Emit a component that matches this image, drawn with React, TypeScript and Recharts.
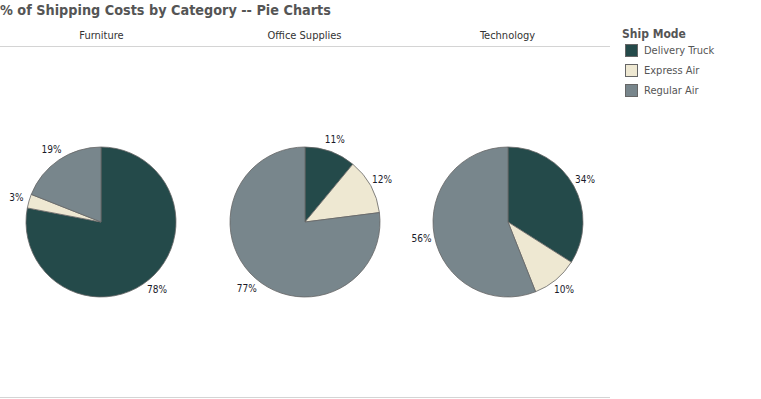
import { PieChart, Pie, Cell } from "recharts";

const modes = ["Delivery Truck", "Express Air", "Regular Air"];
const colors = ["#244A4A", "#EEE8D2", "#78868C"];

const categories = ["Furniture", "Office Supplies", "Technology"];
const furniture = [78, 3, 19];
const officeSupplies = [11, 12, 77];
const technology = [34, 10, 56];
const seriesByCategory = [furniture, officeSupplies, technology];

const FONT = "'DejaVu Sans Condensed', 'DejaVu Sans', sans-serif";
const RAD = Math.PI / 180;

const renderLabel = (p: any) => {
  const r = p.outerRadius + 13;
  const x = p.cx + r * Math.cos(-p.midAngle * RAD);
  const y = p.cy + r * Math.sin(-p.midAngle * RAD);
  return (
    <text x={x} y={y} textAnchor="middle" dominantBaseline="central" fontSize={10} fontFamily={FONT} fill="#1a1a2a">
      {p.value}%
    </text>
  );
};

export default function App() {
  return (
    <div style={{ position: "absolute", left: 0, top: 0, width: 761, height: 399, background: "#fff", fontFamily: FONT, overflow: "hidden" }}>
      <div style={{ position: "absolute", left: 0, top: 2, fontSize: 14.3, fontWeight: "bold", color: "#555" }}>
        % of Shipping Costs by Category -- Pie Charts
      </div>

      {categories.map((c, i) => (
        <div key={c} style={{ position: "absolute", left: i * 203, top: 29, width: 203, textAlign: "center", fontSize: 11, color: "#333" }}>
          {c}
        </div>
      ))}
      <div style={{ position: "absolute", left: 0, top: 46, width: 610, height: 1, background: "#d4d4d4" }} />
      <div style={{ position: "absolute", left: 0, top: 397, width: 610, height: 1, background: "#d4d4d4" }} />

      {seriesByCategory.map((vals, i) => {
        const data = modes.map((m, j) => ({ name: m, value: vals[j] }));
        return (
          <div key={categories[i]} style={{ position: "absolute", left: i * 203, top: 47 }}>
            <PieChart width={203} height={350} margin={{ top: 0, right: 0, bottom: 0, left: 0 }}>
              <Pie
                data={data}
                dataKey="value"
                cx={i === 0 ? 101 : 102}
                cy={175}
                outerRadius={75}
                startAngle={90}
                endAngle={-270}
                stroke="#666"
                strokeWidth={0.8}
                label={renderLabel}
                labelLine={false}
                isAnimationActive={false}
              >
                {data.map((d, j) => <Cell key={d.name} fill={colors[j]} />)}
              </Pie>
            </PieChart>
          </div>
        );
      })}

      <div style={{ position: "absolute", left: 622, top: 27, fontSize: 12, fontWeight: "bold", color: "#555" }}>Ship Mode</div>
      {modes.map((m, j) => (
        <div key={m} style={{ position: "absolute", left: 625, top: 44 + j * 20, display: "flex", alignItems: "center" }}>
          <span style={{ width: 11, height: 11, background: colors[j], border: "1px solid #666", display: "inline-block" }} />
          <span style={{ marginLeft: 6, fontSize: 11, color: "#555" }}>{m}</span>
        </div>
      ))}
    </div>
  );
}
